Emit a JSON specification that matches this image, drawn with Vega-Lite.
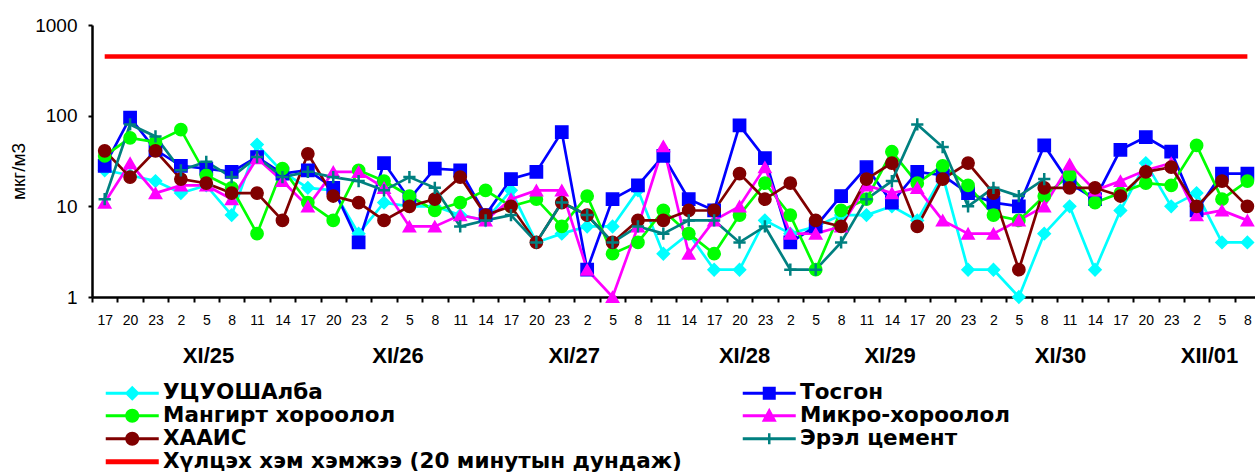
{
  "$schema": "https://vega.github.io/schema/vega-lite/v6.json",
  "width": 1163,
  "height": 272,
  "autosize": {"type": "none"},
  "padding": {"left": 92, "top": 25, "right": 0, "bottom": 176},
  "background": "white",
  "config": {
    "font": "Liberation Sans",
    "view": {"stroke": null},
    "axis": {"labelColor": "black", "labelFont": "Liberation Sans", "titleColor": "black", "titleFont": "Liberation Sans", "grid": false},
    "legend": {
      "orient": "none", "direction": "horizontal", "legendX": 13, "legendY": 357, "columns": 2, "columnPadding": 60, "rowPadding": 0,
      "labelFont": "DejaVu Sans", "labelFontSize": 21.5, "labelFontWeight": "bold", "labelColor": "black", "labelLimit": 1000,
      "symbolSize": 400, "symbolStrokeWidth": 0, "symbolOffset": 16.5, "labelOffset": 20, "padding": 0
    }
  },
  "data": {"values": [
    {"i":0,"УЦУОШАлба":25,"Тосгон":28,"Мангирт хороолол":36,"Микро-хороолол":11,"ХААИС":41,"Эрэл цемент":12},
    {"i":1,"УЦУОШАлба":22,"Тосгон":95,"Мангирт хороолол":57,"Микро-хороолол":30,"ХААИС":21,"Эрэл цемент":80},
    {"i":2,"УЦУОШАлба":19,"Тосгон":42,"Мангирт хороолол":51,"Микро-хороолол":14,"ХААИС":41,"Эрэл цемент":59},
    {"i":3,"УЦУОШАлба":14,"Тосгон":28,"Мангирт хороолол":70,"Микро-хороолол":17,"ХААИС":20,"Эрэл цемент":25},
    {"i":4,"УЦУОШАлба":17,"Тосгон":26,"Мангирт хороолол":22,"Микро-хороолол":17,"ХААИС":18,"Эрэл цемент":31},
    {"i":5,"УЦУОШАлба":8,"Тосгон":24,"Мангирт хороолол":16,"Микро-хороолол":12,"ХААИС":14,"Эрэл цемент":21},
    {"i":6,"УЦУОШАлба":48,"Тосгон":35,"Мангирт хороолол":5,"Микро-хороолол":34,"ХААИС":14,"Эрэл цемент":35},
    {"i":7,"УЦУОШАлба":24,"Тосгон":23,"Мангирт хороолол":26,"Микро-хороолол":19,"ХААИС":7,"Эрэл цемент":21},
    {"i":8,"УЦУОШАлба":16,"Тосгон":25,"Мангирт хороолол":11,"Микро-хороолол":10,"ХААИС":38,"Эрэл цемент":24},
    {"i":9,"УЦУОШАлба":15,"Тосгон":16,"Мангирт хороолол":7,"Микро-хороолол":24,"ХААИС":13,"Эрэл цемент":21},
    {"i":10,"УЦУОШАлба":5,"Тосгон":4,"Мангирт хороолол":25,"Микро-хороолол":24,"ХААИС":11,"Эрэл цемент":19},
    {"i":11,"УЦУОШАлба":11,"Тосгон":30,"Мангирт хороолол":19,"Микро-хороолол":16,"ХААИС":7,"Эрэл цемент":15},
    {"i":12,"УЦУОШАлба":10,"Тосгон":12,"Мангирт хороолол":13,"Микро-хороолол":6,"ХААИС":10,"Эрэл цемент":21},
    {"i":13,"УЦУОШАлба":10,"Тосгон":26,"Мангирт хороолол":9,"Микро-хороолол":6,"ХААИС":12,"Эрэл цемент":16},
    {"i":14,"УЦУОШАлба":8,"Тосгон":25,"Мангирт хороолол":11,"Микро-хороолол":8,"ХААИС":21,"Эрэл цемент":6},
    {"i":15,"УЦУОШАлба":7,"Тосгон":8,"Мангирт хороолол":15,"Микро-хороолол":7,"ХААИС":8,"Эрэл цемент":7},
    {"i":16,"УЦУОШАлба":15,"Тосгон":20,"Мангирт хороолол":10,"Микро-хороолол":12,"ХААИС":10,"Эрэл цемент":8},
    {"i":17,"УЦУОШАлба":4,"Тосгон":24,"Мангирт хороолол":12,"Микро-хороолол":15,"ХААИС":4,"Эрэл цемент":4},
    {"i":18,"УЦУОШАлба":5,"Тосгон":66,"Мангирт хороолол":6,"Микро-хороолол":15,"ХААИС":11,"Эрэл цемент":11},
    {"i":19,"УЦУОШАлба":6,"Тосгон":2,"Мангирт хороолол":13,"Микро-хороолол":2,"ХААИС":8,"Эрэл цемент":8},
    {"i":20,"УЦУОШАлба":6,"Тосгон":12,"Мангирт хороолол":3,"Микро-хороолол":1,"ХААИС":4,"Эрэл цемент":4},
    {"i":21,"УЦУОШАлба":15,"Тосгон":17,"Мангирт хороолол":4,"Микро-хороолол":6,"ХААИС":7,"Эрэл цемент":6},
    {"i":22,"УЦУОШАлба":3,"Тосгон":36,"Мангирт хороолол":9,"Микро-хороолол":46,"ХААИС":7,"Эрэл цемент":5},
    {"i":23,"УЦУОШАлба":5,"Тосгон":12,"Мангирт хороолол":5,"Микро-хороолол":3,"ХААИС":9,"Эрэл цемент":7},
    {"i":24,"УЦУОШАлба":2,"Тосгон":9,"Мангирт хороолол":3,"Микро-хороолол":7,"ХААИС":9,"Эрэл цемент":7},
    {"i":25,"УЦУОШАлба":2,"Тосгон":78,"Мангирт хороолол":8,"Микро-хороолол":10,"ХААИС":23,"Эрэл цемент":4},
    {"i":26,"УЦУОШАлба":7,"Тосгон":34,"Мангирт хороолол":18,"Микро-хороолол":27,"ХААИС":12,"Эрэл цемент":6},
    {"i":27,"УЦУОШАлба":5,"Тосгон":4,"Мангирт хороолол":8,"Микро-хороолол":5,"ХААИС":18,"Эрэл цемент":2},
    {"i":28,"УЦУОШАлба":6,"Тосгон":6,"Мангирт хороолол":2,"Микро-хороолол":5,"ХААИС":7,"Эрэл цемент":2},
    {"i":29,"УЦУОШАлба":8,"Тосгон":13,"Мангирт хороолол":9,"Микро-хороолол":6,"ХААИС":6,"Эрэл цемент":4},
    {"i":30,"УЦУОШАлба":8,"Тосгон":27,"Мангирт хороолол":12,"Микро-хороолол":17,"ХААИС":20,"Эрэл цемент":12},
    {"i":31,"УЦУОШАлба":10,"Тосгон":11,"Мангирт хороолол":40,"Микро-хороолол":14,"ХААИС":30,"Эрэл цемент":19},
    {"i":32,"УЦУОШАлба":7,"Тосгон":24,"Мангирт хороолол":18,"Микро-хороолол":16,"ХААИС":6,"Эрэл цемент":80},
    {"i":33,"УЦУОШАлба":22,"Тосгон":22,"Мангирт хороолол":28,"Микро-хороолол":7,"ХААИС":20,"Эрэл цемент":45},
    {"i":34,"УЦУОШАлба":2,"Тосгон":14,"Мангирт хороолол":17,"Микро-хороолол":5,"ХААИС":30,"Эрэл цемент":10},
    {"i":35,"УЦУОШАлба":2,"Тосгон":11,"Мангирт хороолол":8,"Микро-хороолол":5,"ХААИС":14,"Эрэл цемент":16},
    {"i":36,"УЦУОШАлба":1,"Тосгон":10,"Мангирт хороолол":7,"Микро-хороолол":7,"ХААИС":2,"Эрэл цемент":13},
    {"i":37,"УЦУОШАлба":5,"Тосгон":47,"Мангирт хороолол":13,"Микро-хороолол":10,"ХААИС":16,"Эрэл цемент":20},
    {"i":38,"УЦУОШАлба":10,"Тосгон":18,"Мангирт хороолол":22,"Микро-хороолол":29,"ХААИС":16},
    {"i":39,"УЦУОШАлба":2,"Тосгон":12,"Мангирт хороолол":11,"Микро-хороолол":15,"ХААИС":16},
    {"i":40,"УЦУОШАлба":9,"Тосгон":42,"Мангирт хороолол":14,"Микро-хороолол":19,"ХААИС":13},
    {"i":41,"УЦУОШАлба":30,"Тосгон":58,"Мангирт хороолол":18,"Микро-хороолол":25,"ХААИС":24},
    {"i":42,"УЦУОШАлба":10,"Тосгон":40,"Мангирт хороолол":17,"Микро-хороолол":30,"ХААИС":27},
    {"i":43,"УЦУОШАлба":14,"Тосгон":9,"Мангирт хороолол":47,"Микро-хороолол":8,"ХААИС":10},
    {"i":44,"УЦУОШАлба":4,"Тосгон":23,"Мангирт хороолол":12,"Микро-хороолол":9,"ХААИС":19},
    {"i":45,"УЦУОШАлба":4,"Тосгон":23,"Мангирт хороолол":19,"Микро-хороолол":7,"ХААИС":10}
  ]},
  "layer": [
    {
      "transform": [
        {"fold": ["УЦУОШАлба","Тосгон","Мангирт хороолол","Микро-хороолол","ХААИС","Эрэл цемент"], "as": ["series","value"]},
        {"filter": "isValid(datum.value)"}
      ],
      "mark": {"type": "line", "strokeWidth": 2.7},
      "encoding": {
        "x": {"field": "i", "type": "quantitative",
          "scale": {"domain": [-0.5, 45.3], "nice": false, "zero": false},
          "axis": {"orient": "bottom", "values": [-0.5,0.5,1.5,2.5,3.5,4.5,5.5,6.5,7.5,8.5,9.5,10.5,11.5,12.5,13.5,14.5,15.5,16.5,17.5,18.5,19.5,20.5,21.5,22.5,23.5,24.5,25.5,26.5,27.5,28.5,29.5,30.5,31.5,32.5,33.5,34.5,35.5,36.5,37.5,38.5,39.5,40.5,41.5,42.5,43.5,44.5],
            "labels": false, "ticks": true, "tickSize": 5, "tickWidth": 2, "tickColor": "black",
            "domain": true, "domainColor": "black", "domainWidth": 2.5, "title": null}},
        "y": {"field": "value", "type": "quantitative",
          "scale": {"type": "log", "domain": [1, 1000], "nice": false},
          "axis": {"values": [1, 10, 100, 1000], "format": "d", "tickSize": 4, "tickWidth": 2, "tickColor": "black",
            "domainColor": "black", "domainWidth": 2.5, "labelFontSize": 19, "labelPadding": 11,
            "title": "мкг/м3", "titleFontSize": 19, "titleFontWeight": "normal", "titlePadding": 6, "titleY": 146}},
        "color": {"field": "series", "type": "nominal",
          "scale": {"domain": ["УЦУОШАлба","Тосгон","Мангирт хороолол","Микро-хороолол","ХААИС","Эрэл цемент"],
                    "range": ["#00FFFF","#0000FF","#00FF00","#FF00FF","#800000","#008080"]},
          "legend": null}
      }
    },
    {
      "transform": [
        {"fold": ["УЦУОШАлба","Тосгон","Мангирт хороолол","Микро-хороолол","ХААИС","Эрэл цемент"], "as": ["series","value"]},
        {"filter": "isValid(datum.value)"}
      ],
      "mark": {"type": "point", "filled": true, "opacity": 1, "size": 150},
      "encoding": {
        "x": {"field": "i", "type": "quantitative",
          "axis": {"orient": "bottom", "values": [0,1,2,3,4,5,6,7,8,9,10,11,12,13,14,15,16,17,18,19,20,21,22,23,24,25,26,27,28,29,30,31,32,33,34,35,36,37,38,39,40,41,42,43,44,45],
            "labelExpr": "(17 + 3 * datum.value) % 24", "ticks": false, "tickSize": 0, "domain": false,
            "labelFontSize": 14, "labelPadding": 16, "labelFlush": false, "labelOverlap": false, "title": null}},
        "y": {"field": "value", "type": "quantitative"},
        "fill": {"field": "series", "type": "nominal",
          "scale": {"domain": ["УЦУОШАлба","Тосгон","Мангирт хороолол","Микро-хороолол","ХААИС","Эрэл цемент"],
                    "range": ["#00FFFF","#0000FF","#00FF00","#FF00FF","#800000","#008080"]},
          "legend": null},
        "stroke": {"field": "series", "type": "nominal",
          "scale": {"domain": ["УЦУОШАлба","Тосгон","Мангирт хороолол","Микро-хороолол","ХААИС","Эрэл цемент"],
                    "range": ["#00FFFF","#0000FF","#00FF00","#FF00FF","#800000","#008080"]},
          "legend": null},
        "shape": {"field": "series", "type": "nominal",
          "scale": {"domain": ["УЦУОШАлба","Тосгон","Мангирт хороолол","Микро-хороолол","ХААИС","Эрэл цемент"],
                    "range": ["diamond","square","circle","triangle-up","circle","M-1,0L1,0M0,-1L0,1"]},
          "legend": null},
        "strokeWidth": {"condition": {"test": "datum.series === 'Эрэл цемент'", "value": 2.5}, "value": 1.5}
      }
    },
    {
      "data": {"values": [{"i": 0, "limit": 450}, {"i": 45, "limit": 450}]},
      "mark": {"type": "line", "color": "#FF0000", "strokeWidth": 4.5},
      "encoding": {
        "x": {"field": "i", "type": "quantitative",
          "axis": {"orient": "bottom", "values": [4.07, 11.53, 18.47, 25.18, 30.91, 37.62, 43.49],
            "labelExpr": "datum.value < 8 ? 'XI/25' : datum.value < 15 ? 'XI/26' : datum.value < 22 ? 'XI/27' : datum.value < 28 ? 'XI/28' : datum.value < 34 ? 'XI/29' : datum.value < 40 ? 'XI/30' : 'XII/01'",
            "ticks": false, "tickSize": 0, "domain": false, "labelFontSize": 22, "labelFontWeight": "bold",
            "labelPadding": 48, "labelFlush": false, "labelOverlap": false, "title": null}},
        "y": {"field": "limit", "type": "quantitative"}
      }
    },
    {
      "transform": [{"filter": "false"}],
      "mark": {"type": "point", "filled": true, "opacity": 1, "size": 400},
      "encoding": {
        "color": {"field": "series", "type": "nominal",
          "scale": {"domain": ["УЦУОШАлба","Тосгон","Мангирт хороолол","Микро-хороолол","ХААИС","Эрэл цемент","Хүлцэх хэм хэмжээ (20 минутын дундаж)"],
                    "range": ["#00FFFF","#0000FF","#00FF00","#FF00FF","#800000","#008080","#FF0000"]},
          "legend": {"title": null}},
        "shape": {"field": "series", "type": "nominal",
          "scale": {"domain": ["УЦУОШАлба","Тосгон","Мангирт хороолол","Микро-хороолол","ХААИС","Эрэл цемент","Хүлцэх хэм хэмжээ (20 минутын дундаж)"],
                    "range": [
                      "M-2.65,-0.15L2.65,-0.15L2.65,0.15L-2.65,0.15ZM0,-0.75L0.75,0L0,0.75L-0.75,0Z",
                      "M-2.65,-0.15L2.65,-0.15L2.65,0.15L-2.65,0.15ZM-0.65,-0.65L0.65,-0.65L0.65,0.65L-0.65,0.65Z",
                      "M-2.65,-0.15L2.65,-0.15L2.65,0.15L-2.65,0.15ZM-0.7,0A0.7,0.7,0,1,1,0.7,0A0.7,0.7,0,1,1,-0.7,0Z",
                      "M-2.65,-0.15L2.65,-0.15L2.65,0.15L-2.65,0.15ZM0,-0.8L0.75,0.6L-0.75,0.6Z",
                      "M-2.65,-0.15L2.65,-0.15L2.65,0.15L-2.65,0.15ZM-0.7,0A0.7,0.7,0,1,1,0.7,0A0.7,0.7,0,1,1,-0.7,0Z",
                      "M-2.65,-0.15L2.65,-0.15L2.65,0.15L-2.65,0.15ZM-0.125,-0.55L0.125,-0.55L0.125,0.55L-0.125,0.55Z",
                      "M-2.65,-0.25L2.65,-0.25L2.65,0.25L-2.65,0.25Z"
                    ]},
          "legend": {"title": null}}
      }
    }
  ],
  "resolve": {
    "scale": {"color": "independent", "shape": "independent", "fill": "independent", "stroke": "independent"},
    "axis": {"x": "independent"}
  }
}
